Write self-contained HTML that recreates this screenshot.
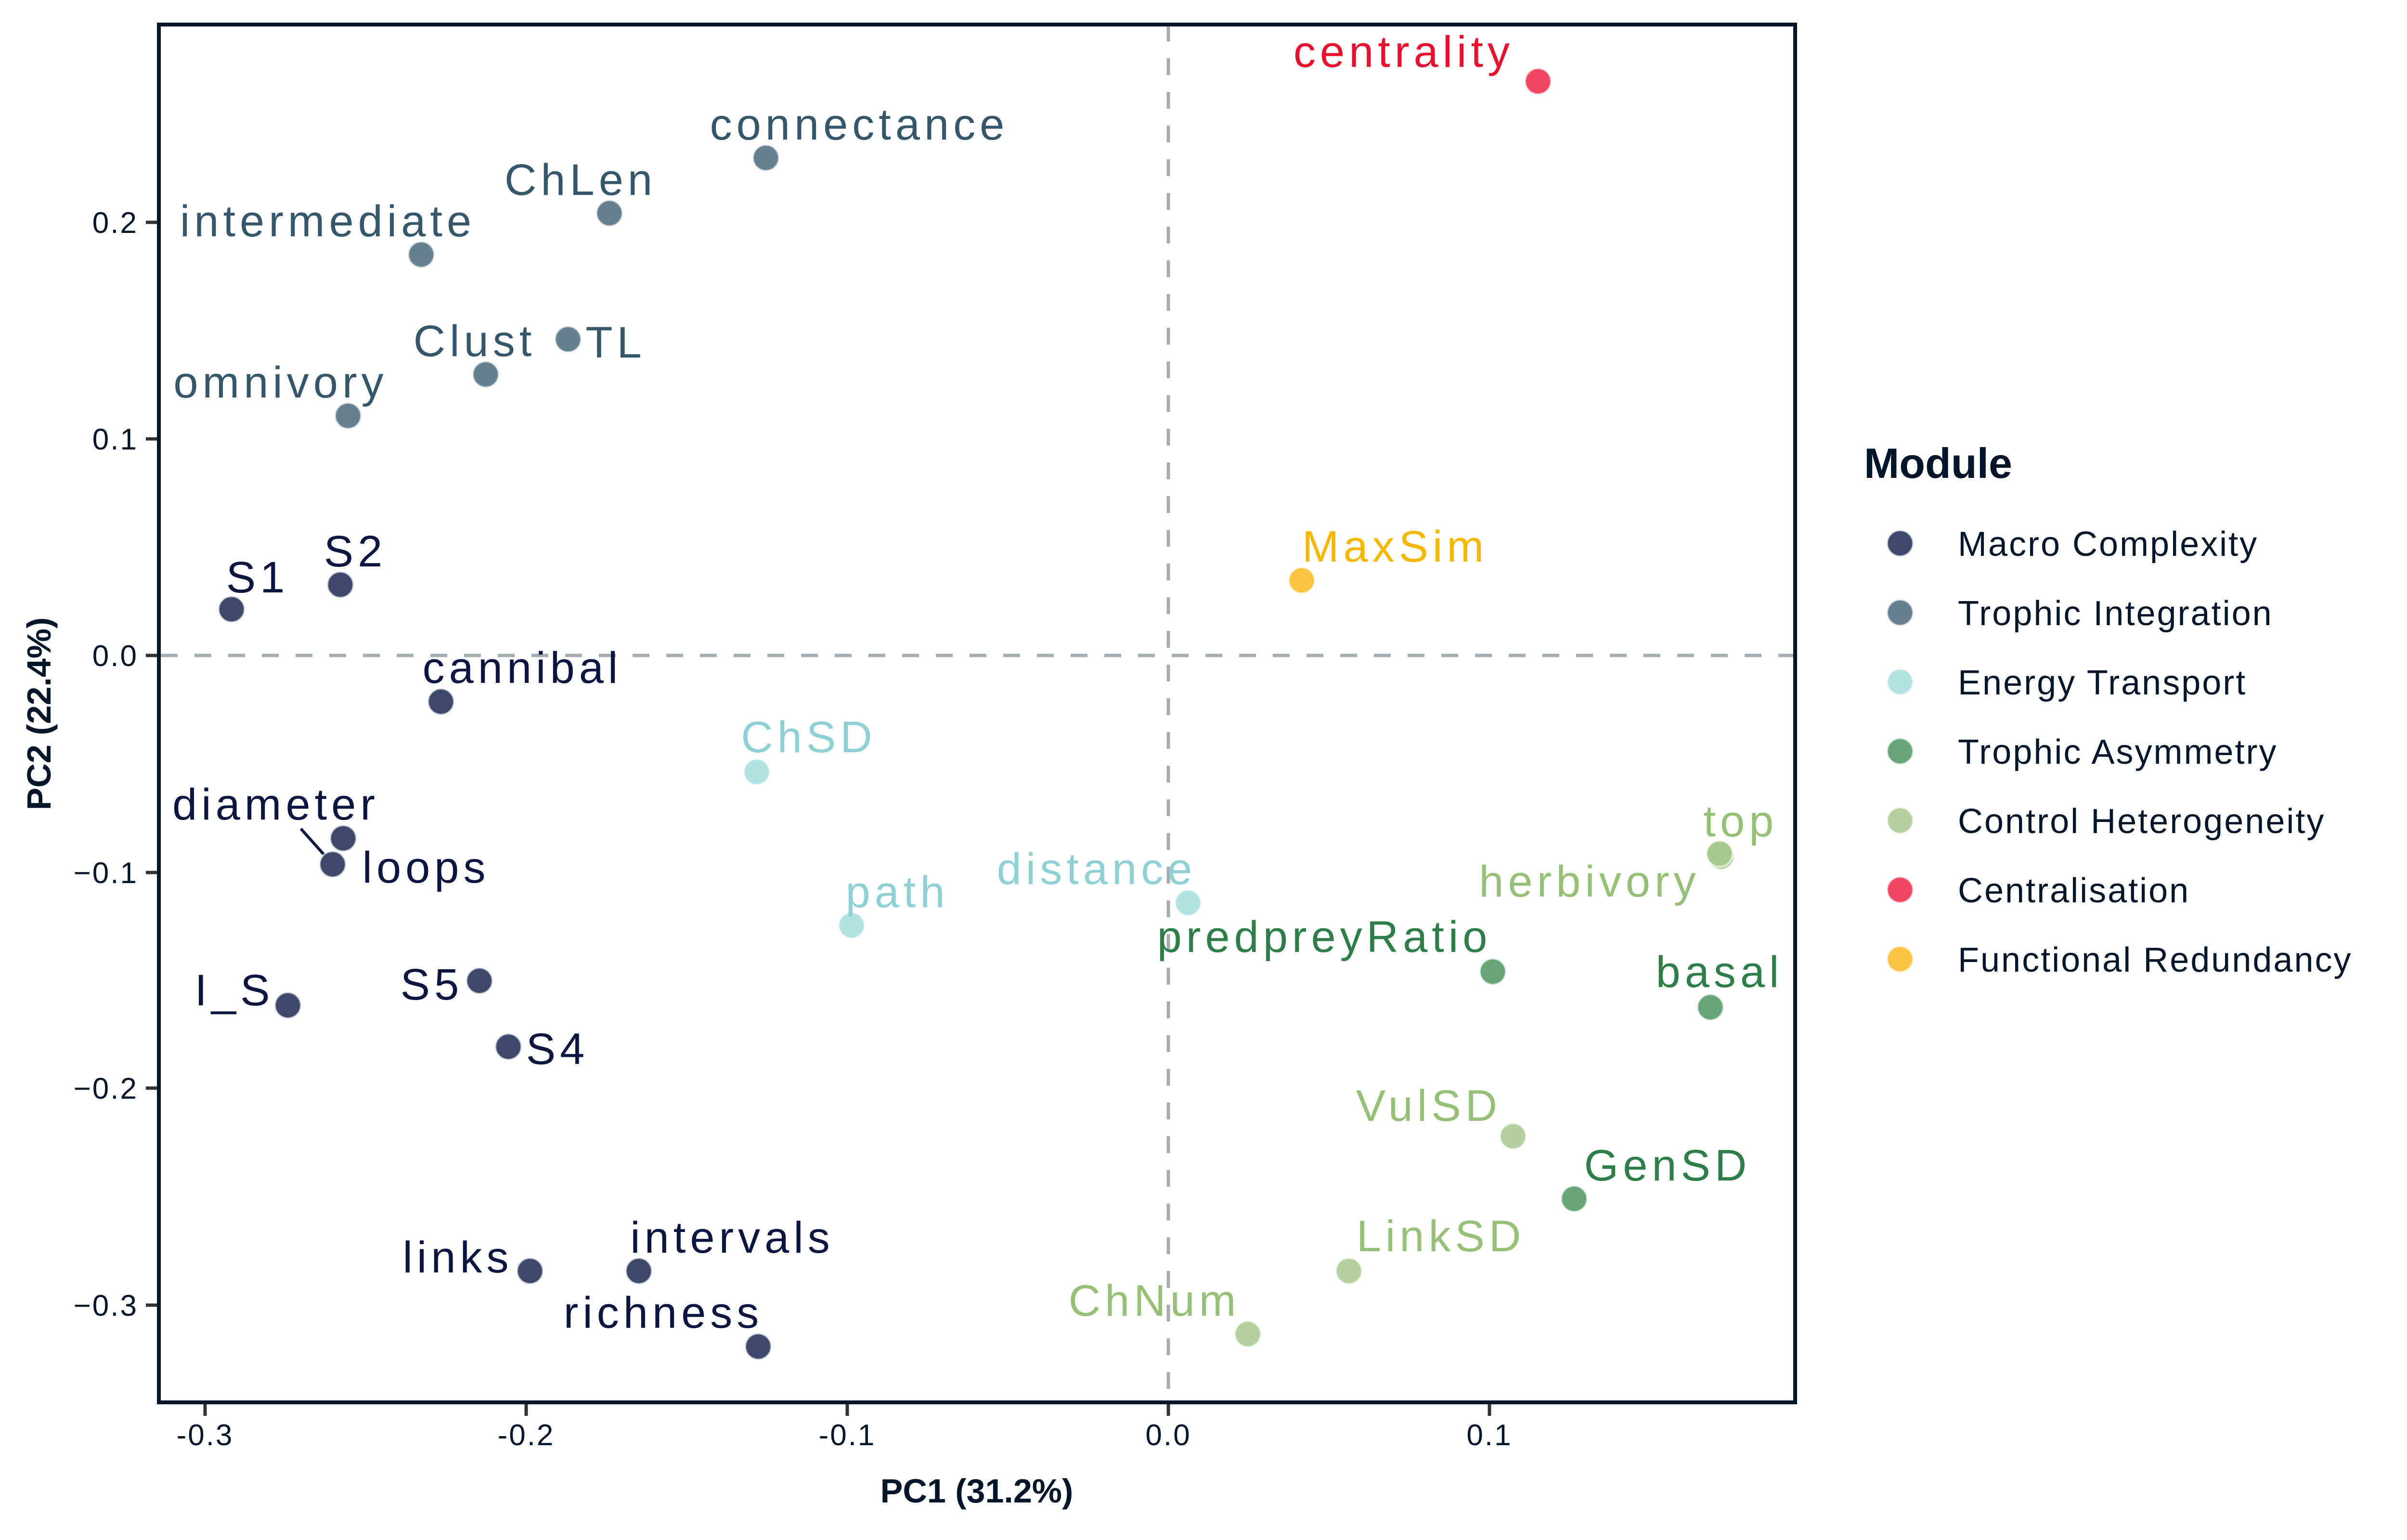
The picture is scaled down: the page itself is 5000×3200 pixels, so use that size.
<!DOCTYPE html>
<html><head><meta charset="utf-8"><style>
html,body{margin:0;padding:0;background:#fff}
svg{display:block}
text{font-family:"Liberation Sans",sans-serif}
.lb{font-size:92px;letter-spacing:9px;text-anchor:middle}
.mc{fill:#0b1540}.ti{fill:#36566a}.et{fill:#8fd0d3}.ta{fill:#2f7d4a}.ch{fill:#98bf78}.ce{fill:#e8102f}.fr{fill:#f5b800}
circle{stroke:rgba(255,255,255,0.6);stroke-width:4}
</style></head><body>
<svg width="5000" height="3200" viewBox="0 0 5000 3200" xmlns="http://www.w3.org/2000/svg">
<rect width="5000" height="3200" fill="#fff"/>
<line x1="334" y1="1362" x2="3729" y2="1362" stroke="#a6abae" stroke-width="7" stroke-dasharray="35 35"/>
<line x1="2427" y1="51" x2="2427" y2="2910" stroke="#a6abae" stroke-width="7" stroke-dasharray="35 35"/>
<line x1="691" y1="1796" x2="625" y2="1722" stroke="#0b1540" stroke-width="6"/>
<g>
<circle cx="1591" cy="328" r="27" fill="#66808f"/>
<circle cx="1266" cy="443" r="27" fill="#66808f"/>
<circle cx="875" cy="529" r="27" fill="#66808f"/>
<circle cx="1180" cy="705" r="27" fill="#66808f"/>
<circle cx="1009" cy="778" r="27" fill="#66808f"/>
<circle cx="723" cy="864" r="27" fill="#66808f"/>
<circle cx="3195" cy="169" r="27" fill="#ef4762"/>
<circle cx="2704" cy="1206" r="27" fill="#fdc443"/>
<circle cx="481" cy="1266" r="27" fill="#3f486b"/>
<circle cx="707" cy="1215" r="27" fill="#3f486b"/>
<circle cx="916" cy="1458" r="27" fill="#3f486b"/>
<circle cx="713" cy="1742" r="27" fill="#3f486b"/>
<circle cx="691" cy="1796" r="27" fill="#3f486b"/>
<circle cx="598" cy="2089" r="27" fill="#3f486b"/>
<circle cx="996" cy="2038" r="27" fill="#3f486b"/>
<circle cx="1056" cy="2175" r="27" fill="#3f486b"/>
<circle cx="1101" cy="2641" r="27" fill="#3f486b"/>
<circle cx="1327" cy="2641" r="27" fill="#3f486b"/>
<circle cx="1575" cy="2798" r="27" fill="#3f486b"/>
<circle cx="1572" cy="1604" r="27" fill="#b2e2e2"/>
<circle cx="1769" cy="1923" r="27" fill="#b2e2e2"/>
<circle cx="2468" cy="1876" r="27" fill="#b2e2e2"/>
<circle cx="3101" cy="2019" r="27" fill="#66a47a"/>
<circle cx="3553" cy="2093" r="27" fill="#66a47a"/>
<circle cx="3270" cy="2491" r="27" fill="#66a47a"/>
<circle cx="3575" cy="1780" r="27" fill="#b3d09e"/>
<circle cx="3572" cy="1774" r="27" fill="#a8c98e"/>
<circle cx="3143" cy="2361" r="27" fill="#b3d09e"/>
<circle cx="2802" cy="2641" r="27" fill="#b3d09e"/>
<circle cx="2592" cy="2772" r="27" fill="#b3d09e"/>
</g>
<text class="lb ce" x="2916" y="139">centrality</text>
<text class="lb ti" x="1785" y="290">connectance</text>
<text class="lb ti" x="1206" y="405">ChLen</text>
<text class="lb ti" x="681" y="491">intermediate</text>
<text class="lb ti" x="1279" y="743">TL</text>
<text class="lb ti" x="986" y="740">Clust</text>
<text class="lb ti" x="583" y="826">omnivory</text>
<text class="lb fr" x="2898" y="1167">MaxSim</text>
<text class="lb mc" x="535" y="1231">S1</text>
<text class="lb mc" x="738" y="1177">S2</text>
<text class="lb mc" x="1085" y="1419">cannibal</text>
<text class="lb et" x="1680" y="1563">ChSD</text>
<text class="lb mc" x="573" y="1703">diameter</text>
<text class="lb mc" x="885" y="1834">loops</text>
<text class="lb et" x="1864" y="1885">path</text>
<text class="lb et" x="2278" y="1837">distance</text>
<text class="lb ch" x="3616" y="1738">top</text>
<text class="lb ch" x="3302" y="1863">herbivory</text>
<text class="lb ta" x="2751" y="1978">predpreyRatio</text>
<text class="lb ta" x="3572" y="2051">basal</text>
<text class="lb mc" x="487" y="2089">I_S</text>
<text class="lb mc" x="897" y="2077">S5</text>
<text class="lb mc" x="1158" y="2211">S4</text>
<text class="lb ch" x="2968" y="2329">VulSD</text>
<text class="lb ta" x="3464" y="2453">GenSD</text>
<text class="lb ch" x="2993" y="2600">LinkSD</text>
<text class="lb ch" x="2398" y="2734">ChNum</text>
<text class="lb mc" x="951" y="2644">links</text>
<text class="lb mc" x="1521" y="2603">intervals</text>
<text class="lb mc" x="1378" y="2759">richness</text>
<rect x="330" y="51" width="3399" height="2863" fill="none" stroke="#02162a" stroke-width="8"/>
<g stroke="#333" stroke-width="7">
<line x1="426" y1="2918" x2="426" y2="2942"/>
<line x1="1093" y1="2918" x2="1093" y2="2942"/>
<line x1="1760" y1="2918" x2="1760" y2="2942"/>
<line x1="2427" y1="2918" x2="2427" y2="2942"/>
<line x1="3094" y1="2918" x2="3094" y2="2942"/>
<line x1="303" y1="462" x2="326" y2="462"/>
<line x1="303" y1="912" x2="326" y2="912"/>
<line x1="303" y1="1362" x2="326" y2="1362"/>
<line x1="303" y1="1813" x2="326" y2="1813"/>
<line x1="303" y1="2261" x2="326" y2="2261"/>
<line x1="303" y1="2712" x2="326" y2="2712"/>
</g>
<g fill="#02162a" font-size="62" text-anchor="middle" letter-spacing="3">
<text x="426" y="3003">-0.3</text>
<text x="1093" y="3003">-0.2</text>
<text x="1760" y="3003">-0.1</text>
<text x="2427" y="3003">0.0</text>
<text x="3094" y="3003">0.1</text>
</g>
<g fill="#02162a" font-size="62" text-anchor="end" letter-spacing="3">
<text x="287" y="484">0.2</text>
<text x="287" y="934">0.1</text>
<text x="287" y="1384">0.0</text>
<text x="287" y="1835">−0.1</text>
<text x="287" y="2283">−0.2</text>
<text x="287" y="2734">−0.3</text>
</g>
<text x="2029" y="3122" font-size="70" font-weight="bold" fill="#02162a" text-anchor="middle">PC1 (31.2%)</text>
<text transform="translate(105,1483) rotate(-90)" font-size="70" font-weight="bold" fill="#02162a" text-anchor="middle">PC2 (22.4%)</text>
<text x="3872" y="993" font-size="88" font-weight="bold" fill="#02162a">Module</text>
<g font-size="72" fill="#02162a" letter-spacing="3">
<circle cx="3947" cy="1129" r="27" fill="#3f486b"/><text x="4067" y="1155">Macro Complexity</text>
<circle cx="3947" cy="1273" r="27" fill="#66808f"/><text x="4067" y="1299">Trophic Integration</text>
<circle cx="3947" cy="1417" r="27" fill="#b2e2e2"/><text x="4067" y="1443">Energy Transport</text>
<circle cx="3947" cy="1561" r="27" fill="#66a47a"/><text x="4067" y="1587">Trophic Asymmetry</text>
<circle cx="3947" cy="1705" r="27" fill="#b3d09e"/><text x="4067" y="1731">Control Heterogeneity</text>
<circle cx="3947" cy="1849" r="27" fill="#ef4762"/><text x="4067" y="1875">Centralisation</text>
<circle cx="3947" cy="1993" r="27" fill="#fdc443"/><text x="4067" y="2019">Functional Redundancy</text>
</g>
</svg>
</body></html>
